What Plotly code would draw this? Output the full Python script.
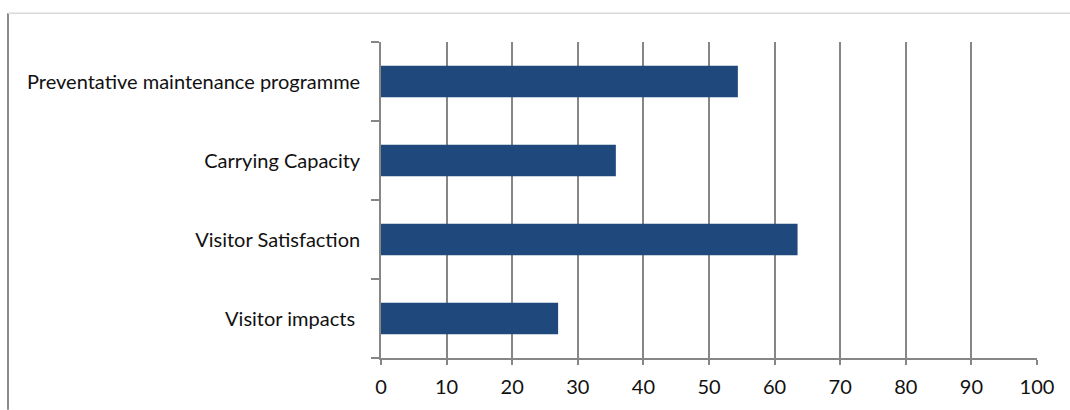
import plotly.graph_objects as go

# Survey results by management topic (percent)
categories = [
    "Visitor impacts\u00a0",
    "Visitor Satisfaction",
    "Carrying Capacity",
    "Preventative maintenance programme",
]
values = [27.0, 63.5, 35.8, 54.4]
x_ticks = [0, 10, 20, 30, 40, 50, 60, 70, 80, 90, 100]

W, H = 1070, 410
L, R, T, B = 381, 33, 42, 50
plot_w = W - L - R
plot_h = H - T - B

AXIS_GREY = "#868686"
BAR_BLUE = "#1f497d"
FONT = "Lato"

fig = go.Figure(
    go.Bar(
        x=values,
        y=categories,
        orientation="h",
        marker=dict(color=BAR_BLUE, line=dict(width=0)),
        width=0.4,
        hoverinfo="x+y",
    )
)


def px_x(p):
    return (p - L) / plot_w


def px_y(p):
    return 1 - (p - T) / plot_h


fig.update_layout(
    width=W,
    height=H,
    margin=dict(l=L, r=R, t=T, b=B),
    paper_bgcolor="white",
    plot_bgcolor="white",
    showlegend=False,
    font=dict(family=FONT, size=20, color="#111111"),
    xaxis=dict(
        range=[0, 100],
        tickvals=x_ticks,
        ticktext=[str(v) for v in x_ticks],
        showgrid=True,
        gridcolor=AXIS_GREY,
        gridwidth=1.6,
        zeroline=False,
        showline=True,
        linecolor=AXIS_GREY,
        linewidth=1.6,
        ticks="outside",
        ticklen=5,
        tickwidth=1.6,
        tickcolor=AXIS_GREY,
        ticklabelstandoff=5,
        fixedrange=True,
    ),
    yaxis=dict(
        categoryorder="array",
        categoryarray=categories,
        showgrid=False,
        zeroline=False,
        showline=True,
        linecolor=AXIS_GREY,
        linewidth=1.6,
        ticks="outside",
        tickson="boundaries",
        ticklen=8,
        tickwidth=1.6,
        tickcolor=AXIS_GREY,
        ticklabelstandoff=15,
        fixedrange=True,
    ),
    shapes=[
        # outer chart frame: left edge and top edge
        dict(type="line", xref="paper", yref="paper",
             x0=px_x(8), x1=px_x(8), y0=px_y(13), y1=px_y(H + 2),
             line=dict(color="#8c8c8c", width=2)),
        dict(type="line", xref="paper", yref="paper",
             x0=px_x(8), x1=px_x(W + 2), y0=px_y(13), y1=px_y(13),
             line=dict(color="#d9d9d9", width=1.5)),
    ],
)

fig.write_html("out.html")
